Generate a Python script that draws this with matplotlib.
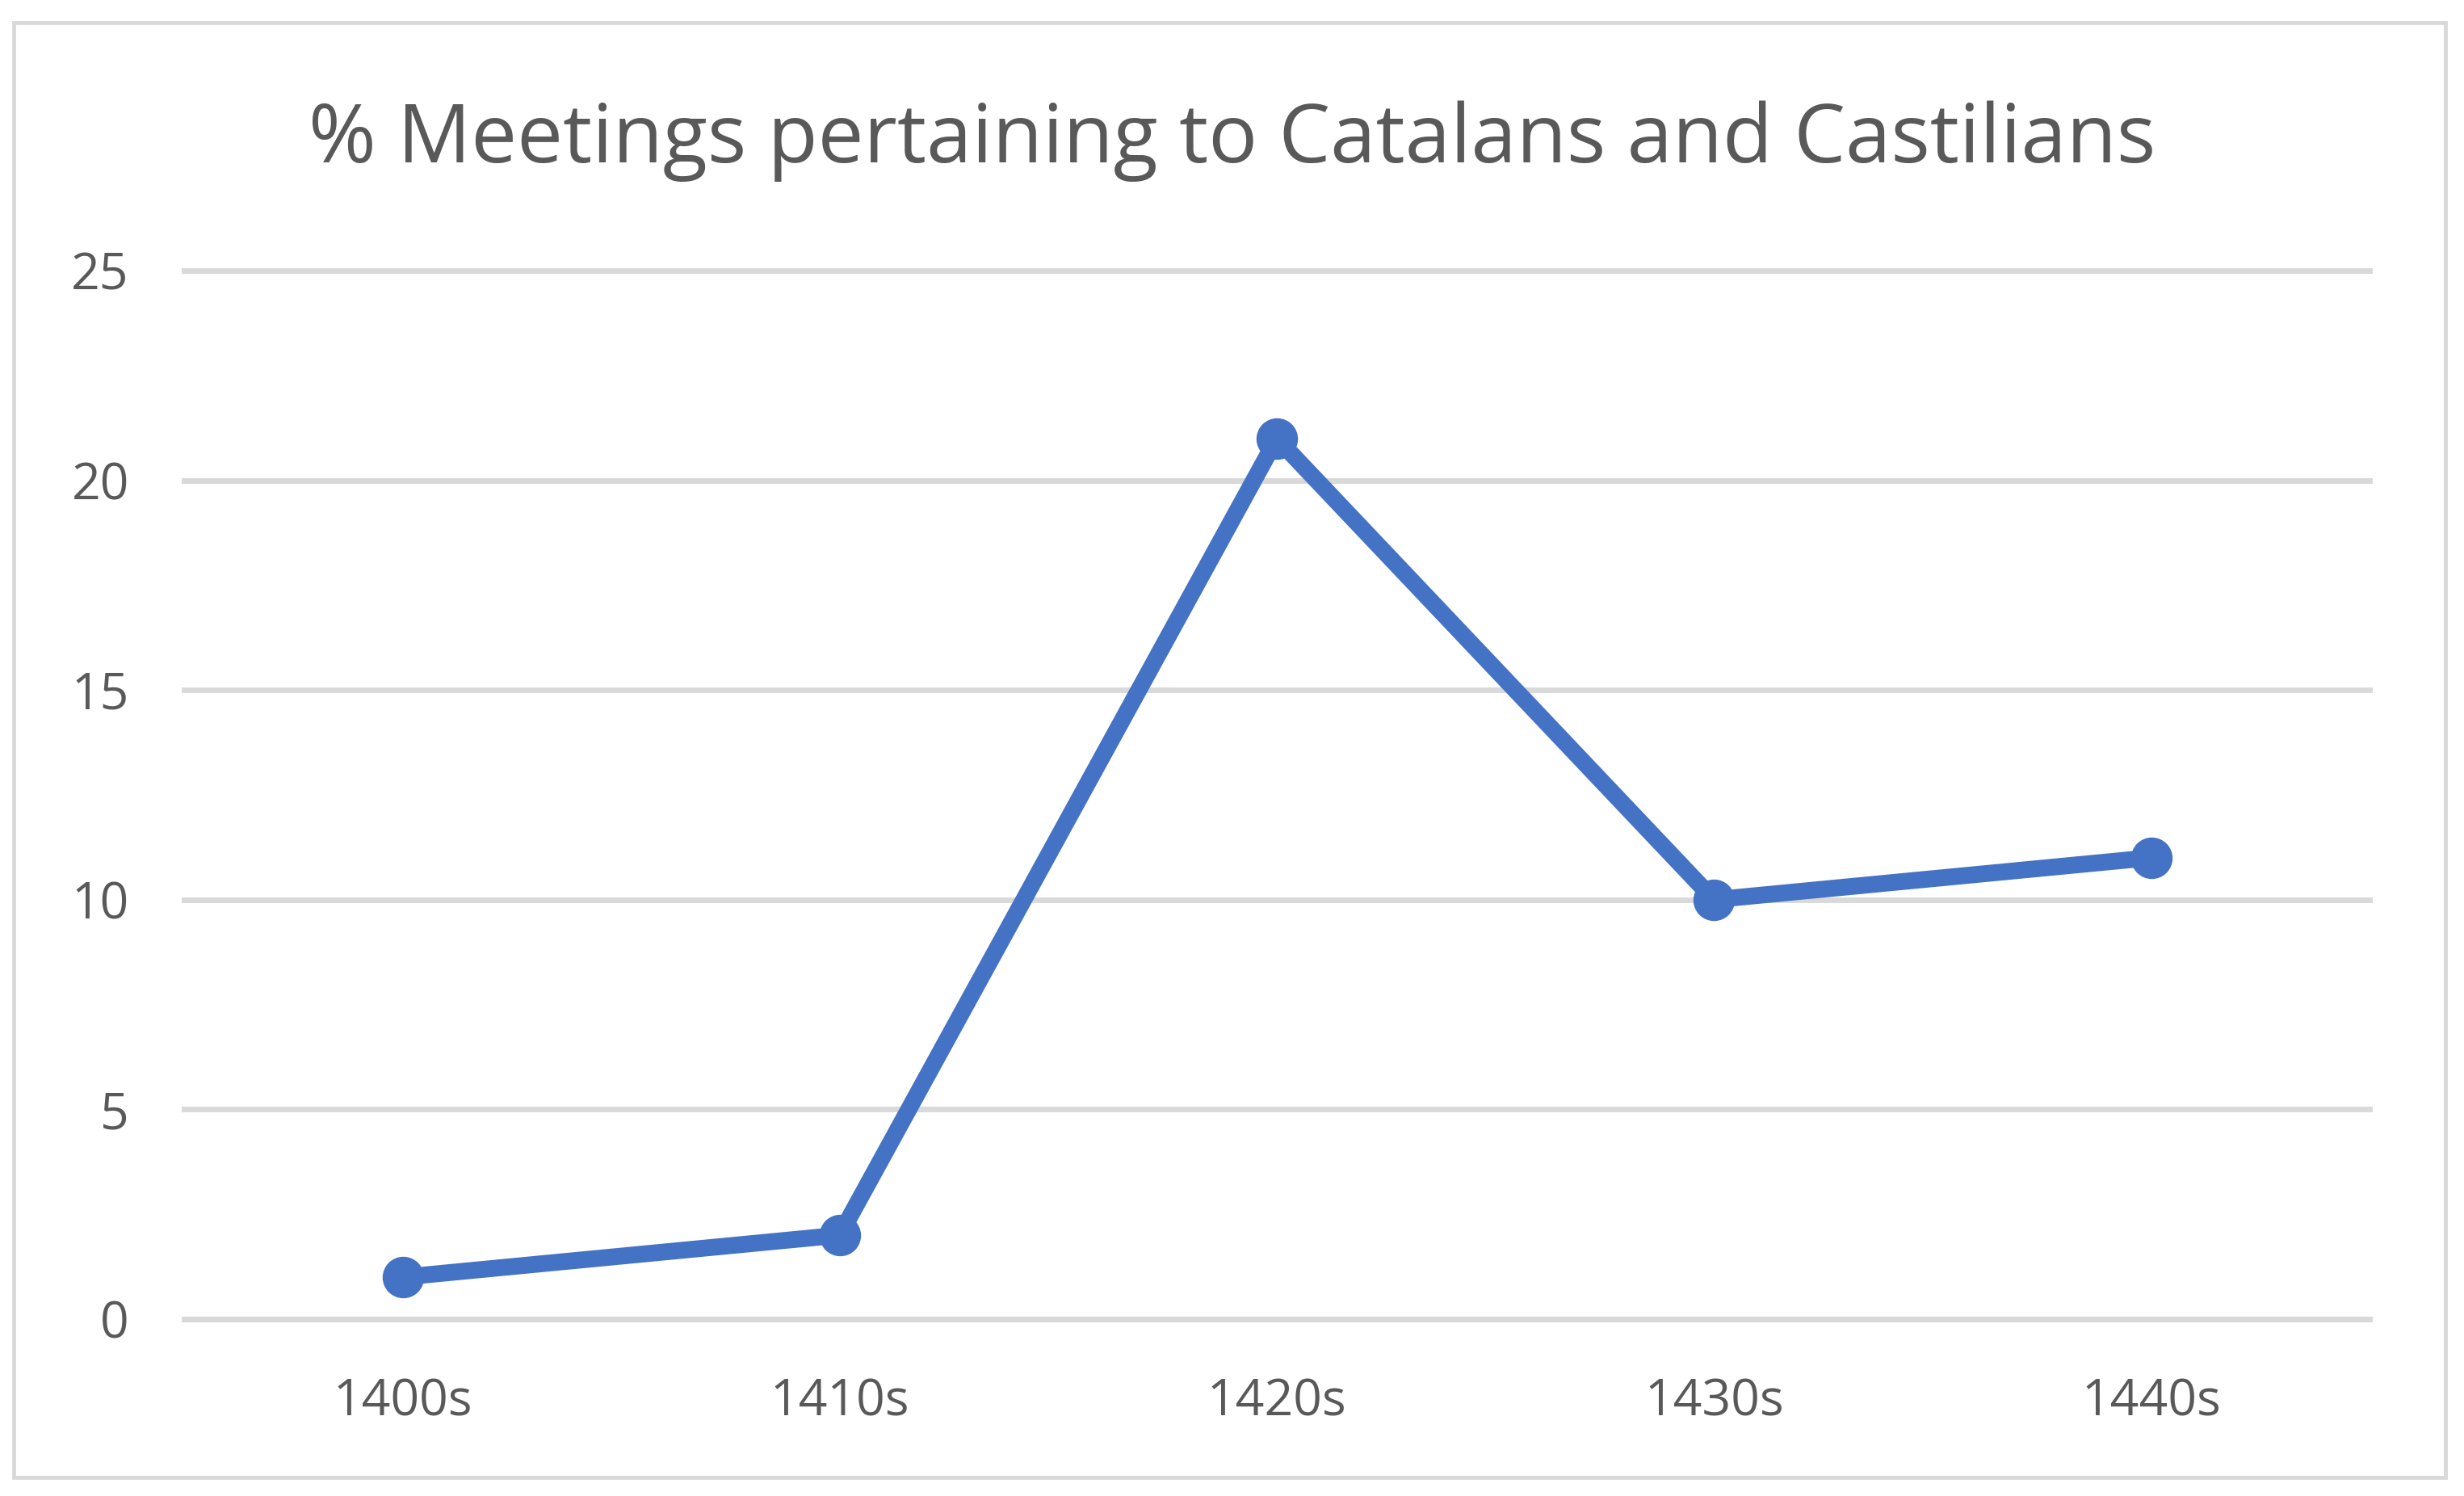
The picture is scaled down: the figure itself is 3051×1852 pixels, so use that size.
import matplotlib.pyplot as plt
from matplotlib.patches import Rectangle

decades = ["1400s", "1410s", "1420s", "1430s", "1440s"]
pct_meetings = [1, 2, 21, 10, 11]
y_ticks = [0, 5, 10, 15, 20, 25]

plt.rcParams['font.family'] = ['Open Sans', 'DejaVu Sans']
text_grey = '#595959'
grid_grey = '#D9D9D9'
blue = '#4472C4'

fig = plt.figure(figsize=(30.51, 18.52), dpi=100)
ax = fig.add_axes([0.0747, 0.1183, 0.9617 - 0.0747, 0.8191 - 0.1183])

x = range(len(decades))
ax.plot(x, pct_meetings, color=blue, lw=15, marker='o', ms=36,
        solid_capstyle='round', solid_joinstyle='round', zorder=3)

ax.set_xlim(-0.5, len(decades) - 0.5)
ax.set_ylim(0, 25)
ax.set_yticks(y_ticks)
ax.set_xticks(list(x))
ax.set_xticklabels(decades)
ax.grid(axis='y', color=grid_grey, lw=5)
for gl in ax.get_ygridlines():
    gl.set_clip_on(False)
ax.set_axisbelow(True)
for s in ax.spines.values():
    s.set_visible(False)
ax.tick_params(length=0, labelsize=45, colors=text_grey)
ax.tick_params(axis='y', pad=49)
ax.tick_params(axis='x', pad=52)

fig.text(0.5, 1 - 175 / 1852, "% Meetings pertaining to Catalans and Castilians",
         ha='center', va='center', fontsize=73, color=text_grey)

# outer chart border
fig.patches.append(Rectangle((17 / 3051, 1 - 1829 / 1852), (3028 - 17) / 3051, (1829 - 28) / 1852,
                             transform=fig.transFigure, fill=False, ec=grid_grey, lw=3.5))

fig.savefig("out.png", dpi=100, facecolor='white')
